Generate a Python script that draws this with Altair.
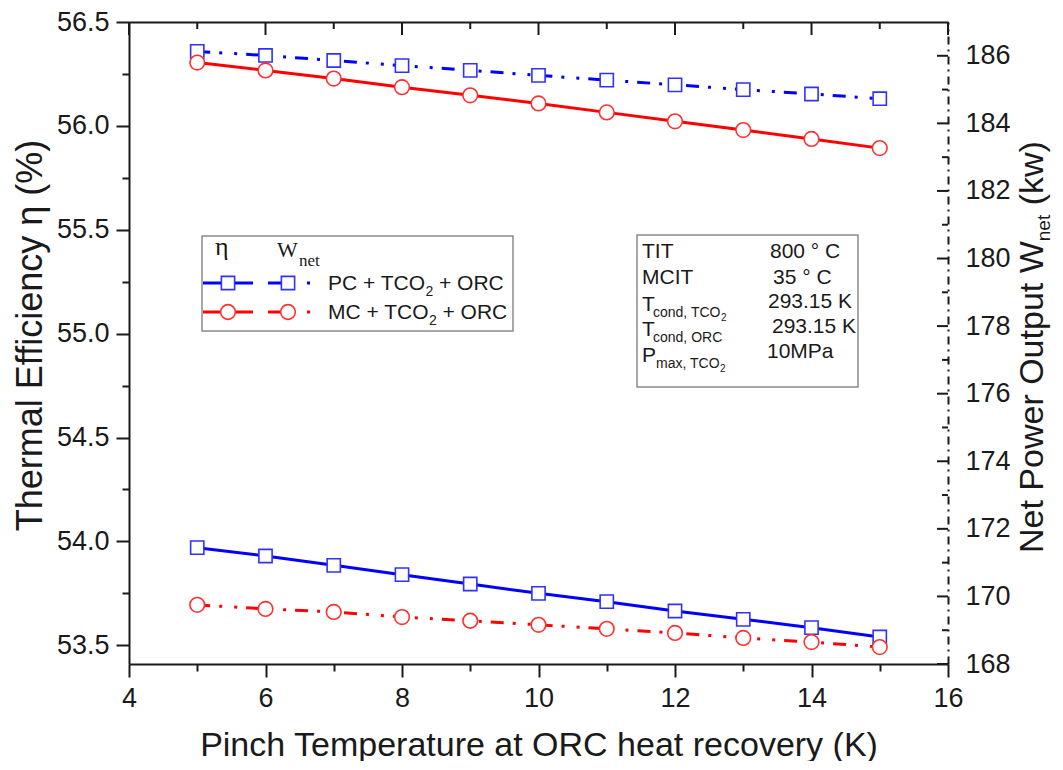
import altair as alt
import pandas as pd

# ---------------- data ----------------
pinch = [5, 6, 7, 8, 9, 10, 11, 12, 13, 14, 15]
eta_pc = [53.97, 53.93, 53.885, 53.84, 53.795, 53.75, 53.71, 53.665, 53.625, 53.585, 53.54]
eta_mc = [56.305, 56.267, 56.228, 56.186, 56.147, 56.108, 56.065, 56.022, 55.98, 55.937, 55.893]
wnet_pc = [186.13, 186.01, 185.86, 185.71, 185.57, 185.42, 185.28, 185.14, 185.0, 184.87, 184.73]
wnet_mc = [169.75, 169.63, 169.54, 169.39, 169.28, 169.16, 169.04, 168.92, 168.77, 168.65, 168.50]
series = ["PC + TCO2 + ORC", "MC + TCO2 + ORC"]

x_major = [4, 6, 8, 10, 12, 14, 16]
x_minor = [5, 7, 9, 11, 13, 15]
eta_major = [53.5, 54.0, 54.5, 55.0, 55.5, 56.0, 56.5]
eta_minor = [53.75, 54.25, 54.75, 55.25, 55.75, 56.25]
w_major = [168, 170, 172, 174, 176, 178, 180, 182, 184, 186]
w_minor = [169, 171, 173, 175, 177, 179, 181, 183, 185]

# ---------------- style ----------------
W, H = 819, 642
FONT = "Liberation Sans"
SERIF = "Liberation Serif"
INK = "#1a1a1a"
BLUE = "#0000ff"
RED = "#ff0000"
DASHDOT = [13, 9, 3, 12, 3, 9]

eff_df = pd.DataFrame({"x": pinch * 2, "y": eta_pc + eta_mc,
                       "s": [series[0]] * len(pinch) + [series[1]] * len(pinch)})
w_df = pd.DataFrame({"x": pinch * 2, "y": wnet_pc + wnet_mc,
                     "s": [series[0]] * len(pinch) + [series[1]] * len(pinch)})

xs = alt.Scale(domain=[4, 16], nice=False, zero=False)
ys_eff = alt.Scale(domain=[53.41, 56.5], nice=False, zero=False)
ys_w = alt.Scale(domain=[168, 187], nice=False, zero=False)
cscale = alt.Scale(domain=series, range=[BLUE, RED])


def ax(**kw):
    base = dict(grid=False, tickColor=INK, tickWidth=2, domainColor=INK,
                domainWidth=2, labelFont=FONT, labelColor=INK, labelOverlap=False)
    base.update(kw)
    return alt.Axis(**base)


def X(axis=None):
    return alt.X("x:Q", scale=xs, axis=axis)


# ---------------- data layers ----------------
eff_lines = alt.Chart(eff_df).mark_line(strokeWidth=3).encode(
    x=X(), y=alt.Y("y:Q", scale=ys_eff, axis=None),
    color=alt.Color("s:N", scale=cscale, legend=None), detail="s:N")

w_lines = alt.Chart(w_df).mark_line(strokeWidth=3, strokeDash=DASHDOT).encode(
    x=X(), y=alt.Y("y:Q", scale=ys_w, axis=None),
    color=alt.Color("s:N", scale=cscale, legend=None), detail="s:N")


def pts(df, ysc, s, shape, col, size):
    return alt.Chart(df).transform_filter(alt.datum.s == s).mark_point(
        shape=shape, size=size, filled=True, fill="white", stroke=col,
        strokeWidth=1.6, opacity=1).encode(
        x=X(), y=alt.Y("y:Q", scale=ysc, axis=None))


w_pc_pts = pts(w_df, ys_w, series[0], "square", "#3030ff", 175)
eff_pc_pts = pts(eff_df, ys_eff, series[0], "square", "#3030ff", 175)
w_mc_pts = pts(w_df, ys_w, series[1], "circle", "#ff3030", 215)
eff_mc_pts = pts(eff_df, ys_eff, series[1], "circle", "#ff3030", 215)


# ---------------- axis layers (invisible marks carrying the axes) ----------------
def axis_layer(df, ysc, yaxis=None, xaxis=None):
    return alt.Chart(df).mark_point(opacity=0).encode(
        x=X(xaxis), y=alt.Y("y:Q", scale=ysc, axis=yaxis))


left_major = axis_layer(eff_df, ys_eff, yaxis=ax(
    orient="left", values=eta_major, format=".1f", tickSize=13,
    labelFontSize=27, labelPadding=7,
    title="Thermal Efficiency η (%)", titleFont=FONT, titleFontSize=36,
    titleFontWeight="normal", titleColor=INK, titleAngle=270,
    titleX=-88, titleY=313, titleAlign="center", titleBaseline="alphabetic"))

left_minor = axis_layer(eff_df, ys_eff, yaxis=ax(
    orient="left", values=eta_minor, tickSize=7, labels=False, domain=False,
    title=None))

right_axis = axis_layer(w_df, ys_w, yaxis=ax(
    orient="right", values=w_major, format="d", ticks=False, tickSize=0,
    labelFontSize=27, labelAlign="left", labelPadding=17,
    domainDash=[8, 5, 2, 5], title=None))

bottom_major = axis_layer(eff_df, ys_eff, xaxis=ax(
    orient="bottom", values=x_major, format="d", tickSize=13,
    labelFontSize=27, labelPadding=8, labelFlush=False,
    title="Pinch Temperature at ORC heat recovery (K)", titleFont=FONT,
    titleFontSize=34, titleFontWeight="normal", titleColor=INK,
    titleX=W / 2, titleY=91, titleAlign="center", titleBaseline="alphabetic"))

bottom_minor = axis_layer(eff_df, ys_eff, xaxis=ax(
    orient="bottom", values=x_minor, tickSize=7, labels=False, domain=False,
    title=None))

top_axis = axis_layer(eff_df, ys_eff, xaxis=ax(
    orient="top", values=x_major, ticks=False, labels=False, title=None))

# inward ticks on the top and right frame, placed through the scales
top_major_t = alt.Chart(pd.DataFrame({"v": x_major})).mark_rule(
    color=INK, strokeWidth=2).encode(
    x=alt.X("v:Q", scale=xs, axis=None), y=alt.value(0), y2=alt.value(13))
top_minor_t = alt.Chart(pd.DataFrame({"v": x_minor})).mark_rule(
    color=INK, strokeWidth=2).encode(
    x=alt.X("v:Q", scale=xs, axis=None), y=alt.value(0), y2=alt.value(7))
right_major_t = alt.Chart(pd.DataFrame({"v": w_major})).mark_rule(
    color=INK, strokeWidth=2).encode(
    y=alt.Y("v:Q", scale=ys_w, axis=None), x=alt.value(W - 11), x2=alt.value(W))
right_minor_t = alt.Chart(pd.DataFrame({"v": w_minor})).mark_rule(
    color=INK, strokeWidth=2).encode(
    y=alt.Y("v:Q", scale=ys_w, axis=None), x=alt.value(W - 6), x2=alt.value(W))

# ---------------- annotations (legend box, parameter box, right title) ----------------
ONE = alt.Data(values=[{}])


def txt(s, x, y, size, font=FONT, align="left", angle=0, color=INK):
    return alt.Chart(ONE).mark_text(
        text=s, font=font, fontSize=size, align=align, baseline="alphabetic",
        angle=angle, color=color).encode(x=alt.value(x), y=alt.value(y))


def box(x1, x2, y1, y2):
    return alt.Chart(ONE).mark_rect(fill="white", stroke="#8a8a8a",
                                    strokeWidth=1.5).encode(
        x=alt.value(x1), x2=alt.value(x2), y=alt.value(y1), y2=alt.value(y2))


def seg(x1, x2, y, col, dash=None):
    kw = dict(color=col, strokeWidth=3)
    if dash:
        kw["strokeDash"] = dash
    return alt.Chart(ONE).mark_rule(**kw).encode(
        x=alt.value(x1), x2=alt.value(x2), y=alt.value(y))


def sym(x, y, shape, col, size):
    return alt.Chart(ONE).mark_point(
        shape=shape, size=size, filled=True, fill="white", stroke=col,
        strokeWidth=1.6, opacity=1).encode(x=alt.value(x), y=alt.value(y))


ann = []
# legend
ann.append(box(73, 384, 214, 309))
ann += [txt("η", 86, 233, 26, font=SERIF),
        txt("W", 148, 235, 22, font=SERIF),
        txt("net", 170, 244, 17, font=SERIF)]
rows = [(261, BLUE, "#3030ff", "square", 175, "PC + TCO", 199 + 97.4),
        (290, RED, "#ff3030", "circle", 215, "MC + TCO", 199 + 100.9)]
for (yy, col, scol, shp, sz, lead, x2) in rows:
    ann += [seg(74, 124, yy, col), sym(99, yy, shp, scol, sz),
            seg(139, 181, yy, col, dash=[13, 26, 3, 10]), sym(159, yy, shp, scol, sz),
            txt(lead, 199, yy + 7, 21), txt("2", x2, yy + 13, 14),
            txt("+ ORC", x2 + 7.8 + 5.8, yy + 7, 21)]

# parameter box
ann.append(box(508, 729, 213, 365))
ann += [txt("TIT", 513, 236, 21), txt("800 ° C", 641, 236, 21),
        txt("MCIT", 513, 262, 21), txt("35 ° C", 644, 262, 21),
        txt("T", 513, 289, 21), txt("cond, TCO", 524, 295, 14),
        txt("2", 592, 299, 10), txt("293.15 K", 639, 286, 21),
        txt("T", 513, 314, 21), txt("cond, ORC", 524, 320, 14),
        txt("293.15 K", 643, 311, 21),
        txt("P", 513, 340, 21), txt("max, TCO", 527, 346, 14),
        txt("2", 591, 350, 10), txt("10MPa", 638, 336, 21)]

# right axis title with subscript
main_len = 9.17 * 34
ann += [txt("Net Power Output W", 914, 531, 34, angle=270),
        txt("net", 921, 531 - main_len, 19, angle=270),
        txt("(kw)", 914, 531 - main_len - 1.39 * 19 - 0.278 * 34, 34, angle=270)]

layers = [left_major, left_minor, right_axis, bottom_major, bottom_minor, top_axis,
          top_major_t, top_minor_t, right_major_t, right_minor_t,
          w_lines, eff_lines, w_pc_pts, eff_pc_pts, w_mc_pts, eff_mc_pts] + ann

chart = alt.layer(*layers).resolve_scale(
    x="independent", y="independent").properties(
    width=W, height=H,
    autosize=alt.AutoSizeParams(type="none"),
    padding={"left": 121, "top": 14, "right": 107, "bottom": 97},
    background="white").configure_view(stroke=None)

chart.save("out.html", embed_options={"renderer": "svg", "actions": False})
